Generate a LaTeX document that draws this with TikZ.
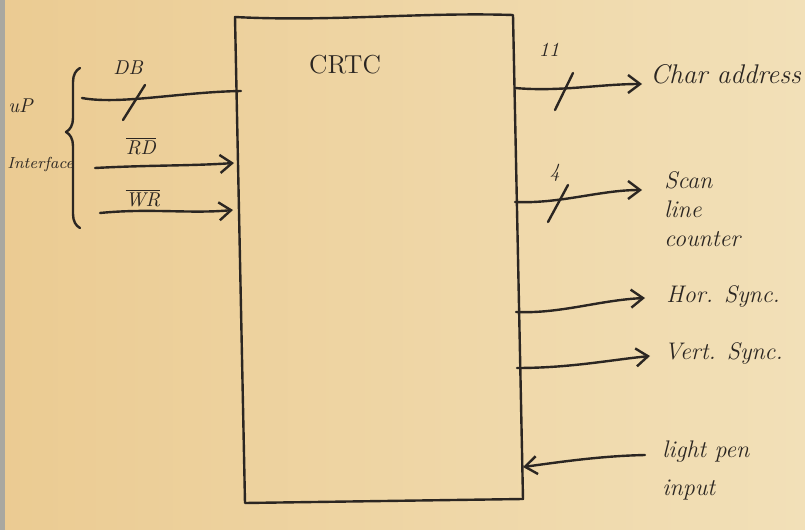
\documentclass[tikz,border=0pt]{standalone}
\usetikzlibrary{arrows.meta,decorations.pathreplacing}
\definecolor{ink}{HTML}{2B2622}
\definecolor{paperA}{HTML}{EBCB92}
\definecolor{paperB}{HTML}{F2E0B8}
\definecolor{edge}{HTML}{A9A8A0}
\begin{document}
\begin{tikzpicture}[x=0.5pt,y=-0.5pt,
  wire/.style={ink,line width=1.2pt,line cap=round,line join=round},
  sig/.style={wire,-{Straight Barb[length=6pt,width=9pt,line width=1.2pt]}},
  lbl/.style={ink,font=\itshape,inner sep=1pt},
  biglbl/.style={ink,font=\fontsize{13.5}{16}\selectfont\itshape,inner sep=1pt},
  smalllbl/.style={ink,font=\fontsize{10}{11}\selectfont\itshape,inner sep=1pt}]
% paper
\useasboundingbox (0,0) rectangle (805,530);
\shade[left color=paperA,right color=paperB] (0,0) rectangle (805,530);
\fill[edge] (0,0) rectangle (5,530);
% CRTC box
\coordinate (tl) at (235,17);
\coordinate (tr) at (513,15);
\coordinate (br) at (523,499);
\coordinate (bl) at (245,503);
\draw[wire] (tl) .. controls (330,22) and (420,12) .. (tr) -- (br) -- (bl) -- cycle;
\node[lbl,font=\fontsize{13}{15}\selectfont] (crtc) at (345,65) {CRTC};
% uP interface
\draw[wire,decorate,decoration={brace,amplitude=7pt,aspect=0.6}] (80,228) -- (80,68);
\node[smalllbl,anchor=west] (up) at (6,106) {uP};
\node[smalllbl,anchor=west,font=\fontsize{8}{9}\selectfont\itshape] (intf) at (5,165) {Interface};
% DB
\coordinate (dbs) at (82,98);
\coordinate (dbe) at (241,91);
\draw[wire] (dbs) .. controls (120,105) and (180,92) .. (dbe);
\draw[wire] (123,120) -- (145,85);
\node[smalllbl] (db) at (128,68) {DB};
% RD
\coordinate (rds) at (95,168);
\coordinate (rde) at (234,163);
\draw[sig] (rds) .. controls (150,165) and (190,166) .. (rde);
\node[smalllbl] (rd) at (141,146) {$\overline{\mbox{RD}}$};
% WR
\coordinate (wrs) at (100,213);
\coordinate (wre) at (233,210);
\draw[sig] (wrs) .. controls (150,208) and (190,214) .. (wre);
\node[smalllbl] (wr) at (143,198) {$\overline{\mbox{WR}}$};
% Char address
\coordinate (cas) at (515,88);
\node[biglbl,anchor=west] (ca) at (648,74) {Char address};
\coordinate (cae) at (642,84);
\draw[sig] (cas) .. controls (560,92) and (600,84) .. (cae);
\draw[wire] (555,110) -- (573,73);
\node[lbl] (n11) at (549,50) {11};
% Scan line counter
\coordinate (scs) at (515,202);
\coordinate (sce) at (642,190);
\draw[sig] (scs) .. controls (560,204) and (600,190) .. (sce);
\draw[wire] (548,222) -- (568,185);
\node[lbl] (n4) at (555,173) {4};
\node[lbl,anchor=west,align=left,font=\fontsize{12}{14.5}\selectfont\itshape] (sc) at (662,209) {Scan\\line\\counter};
% Hor. Sync
\coordinate (hss) at (516,312);
\coordinate (hse) at (645,298);
\draw[sig] (hss) .. controls (560,314) and (600,300) .. (hse);
\node[lbl,anchor=west,font=\fontsize{12}{14}\selectfont\itshape] (hs) at (664,296) {Hor. Sync.};
% Vert. Sync
\coordinate (vss) at (517,368);
\coordinate (vse) at (650,356);
\draw[sig] (vss) .. controls (570,368) and (610,360) .. (vse);
\node[lbl,anchor=west,font=\fontsize{12}{14}\selectfont\itshape] (vs) at (662,353) {Vert. Sync.};
% Light pen input
\coordinate (lps) at (645,455);
\coordinate (lpe) at (523,467);
\draw[sig] (lps) .. controls (600,456) and (560,462) .. (lpe);
\node[lbl,anchor=west,align=left,font=\fontsize{12}{19}\selectfont\itshape] (lp) at (660,470) {light pen\\input};
\end{tikzpicture}
\end{document}
